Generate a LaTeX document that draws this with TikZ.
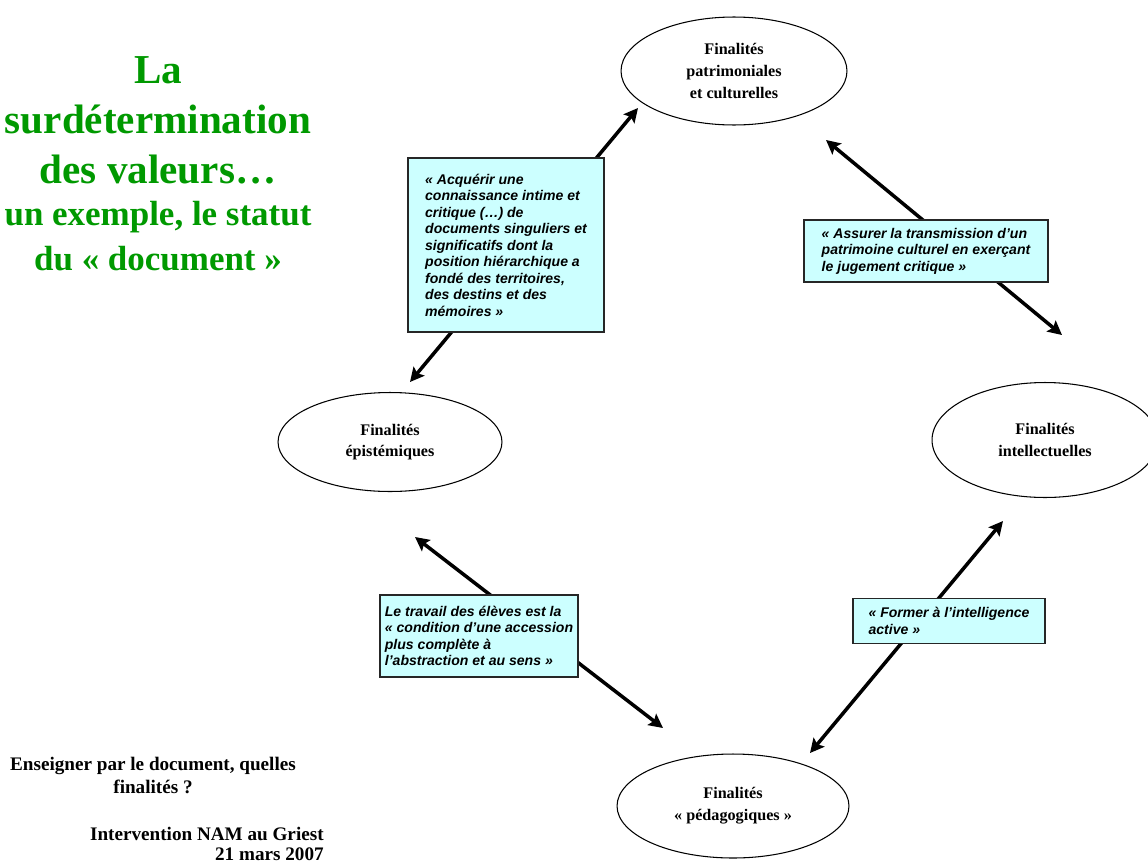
\documentclass[tikz,border=0pt]{standalone}
\usepackage{fontspec}
\setmainfont{Liberation Serif}
\setsansfont{Liberation Sans}
\usetikzlibrary{positioning,shapes.geometric,arrows.meta}

\definecolor{titlegreen}{RGB}{0,153,0}
\definecolor{boxcyan}{RGB}{204,255,255}

\begin{document}
\begin{tikzpicture}[x=0.02cm,y=-0.02cm]
        \tikzstyle{goal}=[draw, ellipse, line width=0.6pt, inner sep=0pt, align=center, font=\fontsize{9.2}{12.4}\selectfont\bfseries];
        \tikzstyle{quotebox}=[draw=black!85, fill=boxcyan, line width=0.8pt, align=left, inner sep=0pt, font=\fontsize{8}{9.4}\selectfont\sffamily\bfseries\itshape];
        \tikzstyle{dbllink}=[line width=2pt, {Stealth[length=8pt,width=8pt,inset=1.5pt]}-{Stealth[length=8pt,width=8pt,inset=1.5pt]}];
        \tikzstyle{bigtitle}=[text=titlegreen, anchor=base, inner sep=0pt, font=\fontsize{23.4}{28}\selectfont\bfseries];
        \tikzstyle{subtitle}=[text=titlegreen, anchor=base, inner sep=0pt, font=\fontsize{19.9}{24}\selectfont\bfseries];
        \tikzstyle{foot}=[inner sep=0pt, font=\fontsize{10.9}{13}\selectfont\bfseries];
        \fill[white] (0,0) rectangle (1148,862);
        \useasboundingbox (0,0) rectangle (1148,862);
        % title
        \node[bigtitle] (t1) at (158,83) {La};
        \node[bigtitle] (t2) at (158,133) {surdétermination};
        \node[bigtitle] (t3) at (158,183) {des valeurs…};
        \node[subtitle] (t4) at (158,225) {un exemple, le statut};
        \node[subtitle] (t5) at (158,270) {du « document »};
        % the four goals
        \node[goal, minimum width=4.52cm, minimum height=2.16cm] (patri) at (734,71) {Finalités\\patrimoniales\\et culturelles};
        \node[goal, minimum width=4.48cm, minimum height=1.98cm] (epis) at (390,442) {Finalités\\épistémiques};
        \node[goal, minimum width=4.52cm, minimum height=2.3cm] (intel) at (1045,440) {Finalités\\intellectuelles};
        \node[goal, minimum width=4.64cm, minimum height=2.08cm] (pedago) at (733,806) {Finalités\\« pédagogiques »};
        % arrows
        \coordinate (a1s) at (410,382);
        \coordinate (a1e) at (638,108);
        \coordinate (a2s) at (826,140);
        \coordinate (a2e) at (1062,335);
        \coordinate (a3s) at (415,537);
        \coordinate (a3e) at (663,728);
        \coordinate (a4s) at (1003,521);
        \coordinate (a4e) at (810,753);
        \draw[dbllink] (a1s) -- (a1e);
        \draw[dbllink] (a2s) -- (a2e);
        \draw[dbllink] (a3s) -- (a3e);
        \draw[dbllink] (a4s) -- (a4e);
        % quotes
        \node[quotebox, minimum width=3.92cm, minimum height=3.48cm] (acq) at (506,245) {« Acquérir une\\connaissance intime et\\critique (…) de\\documents singuliers et\\significatifs dont la\\position hiérarchique a\\fondé des territoires,\\des destins et des\\mémoires »};
        \node[quotebox, minimum width=4.88cm, minimum height=1.24cm] (transm) at (926,251) {« Assurer la transmission d’un\\patrimoine culturel en exerçant\\le jugement critique »};
        \node[quotebox, minimum width=3.96cm, minimum height=1.64cm] (trav) at (479,636) {Le travail des élèves est la\\« condition d’une accession\\plus complète à\\l’abstraction et au sens »};
        \node[quotebox, minimum width=3.84cm, minimum height=0.9cm] (form) at (949,621) {« Former à l’intelligence\\active »};
        % footer
        \node[foot, anchor=base] (f1) at (153,770) {Enseigner par le document, quelles};
        \node[foot, anchor=base] (f2) at (153,793) {finalités ?};
        \node[foot, anchor=base east] (f3) at (324,840) {Intervention NAM au Griest};
        \node[foot, anchor=base east] (f4) at (324,860) {21 mars 2007};
    \end{tikzpicture}
\end{document}
